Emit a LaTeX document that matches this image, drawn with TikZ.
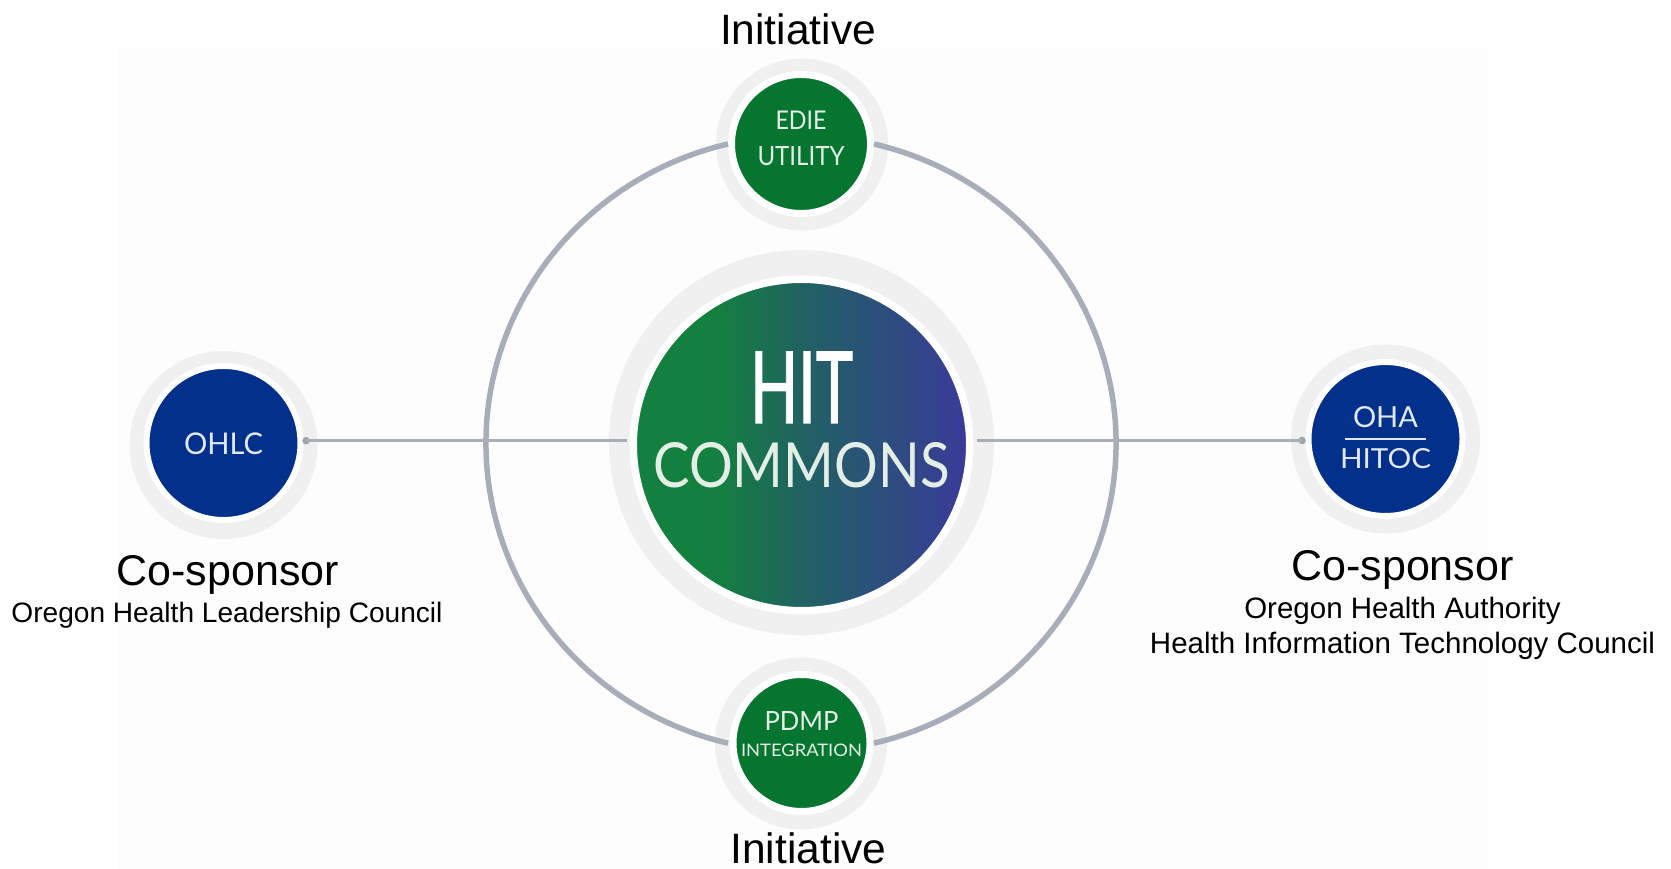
\documentclass[tikz,border=0pt]{standalone}
\usepackage{fontspec}
\usepackage{graphicx}
\usetikzlibrary{shapes.geometric}
\setmainfont{Liberation Sans}
\newfontfamily\hubfont{Lato}
\newfontfamily\hitfont[FakeBold=1.5]{Lato}
\definecolor{halo}{HTML}{F0F0F1}
\definecolor{panel}{HTML}{FDFDFD}
\definecolor{ringgrey}{HTML}{A8AEB9}
\definecolor{linegrey}{HTML}{A9AEB8}
\definecolor{dotgrey}{HTML}{9EA4AF}
\definecolor{hubgreen}{HTML}{067530}
\definecolor{hubblue}{HTML}{03308A}
\definecolor{gradgreen}{HTML}{14803F}
\definecolor{gradmid}{HTML}{206262}
\definecolor{gradblue}{HTML}{3A3A9A}
\definecolor{greentext}{HTML}{E3EFE6}
\definecolor{bluetext}{HTML}{E2E8F2}
\pgfdeclarehorizontalshading{hitgrad}{100bp}{color(0bp)=(gradgreen); color(37bp)=(gradgreen); color(50bp)=(gradmid); color(75bp)=(gradblue); color(100bp)=(gradblue)}
% one centred glyph row of exact width and cap height
\newcommand\glyphs[3]{\hbox to 0pt{\hss\resizebox{#1pt}{#2pt}{#3}\hss}}
% content whose last baseline lies #1 above the node centre, taking no room in the node
\newcommand\placed[2]{\makebox[0pt]{\raisebox{#1pt}[0pt][0pt]{\vbox{\offinterlineskip #2}}}}
\tikzset{
  halodisc/.style={circle,inner sep=0pt,outer sep=0pt,fill=halo,minimum size=#1},
  hub/.style={circle,inner sep=0pt,draw=white,line width=#1,font=\hubfont},
  centrehub/.style={ellipse,inner sep=0pt,draw=white,line width=7.5pt,minimum width=336.5pt,minimum height=331.5pt,shade,shading=hitgrad,text=white},
  ringline/.style={draw=ringgrey,line width=5.5pt},
  spoke/.style={draw=linegrey,line width=3.5pt},
  spokedot/.style={circle,inner sep=0pt,outer sep=0pt,fill=dotgrey,minimum size=7.5pt},
  bigcaption/.style={font=\fontsize{#1}{#1}\selectfont,anchor=base,inner sep=0pt,text=black},
  smallcaption/.style={font=\fontsize{#1}{#1}\selectfont,anchor=base,inner sep=0pt,text=black},
}
\begin{document}
\begin{tikzpicture}[x=1pt,y=1pt]
\useasboundingbox (0,0) rectangle (1671,869);
\fill[panel] (118,0) rectangle (1488,822);
% halos
\node[halodisc=385pt] (haloHit) at (801.5,426.4) {};
\node[halodisc=188pt] (haloOhlc) at (223.5,424) {};
\node[halodisc=189pt] (haloOha) at (1385.5,430) {};
\node[halodisc=172pt] (haloEdie) at (802,724.5) {};
\node[halodisc=172pt] (haloPdmp) at (801,125.5) {};
% hubs
\node[centrehub] (hit) at (801.5,424)
  {\placed{-43}{{\hitfont\glyphs{103}{71}{HIT}}\vskip 20pt\color{greentext}\hubfont\glyphs{296}{45}{COMMONS}}};
\node[hub=7pt,minimum size=139pt,fill=hubgreen,text=greentext] (edie) at (801,725)
  {\placed{-22}{\glyphs{51}{18.5}{EDIE}\vskip 17pt\glyphs{87}{19}{UTILITY}}};
\node[hub=7pt,minimum size=137pt,fill=hubgreen,text=greentext] (pdmp) at (801.5,126)
  {\placed{-14}{\glyphs{74}{19}{PDMP}\vskip 13.5pt\glyphs{121}{12.5}{INTEGRATION}}};
\node[hub=6pt,minimum size=154pt,fill=hubblue,text=bluetext] (ohlc) at (223.5,426)
  {\placed{-11.3}{\glyphs{79}{21.7}{OHLC}}};
\node[hub=6pt,minimum size=154pt,fill=hubblue,text=bluetext] (oha) at (1385.5,430)
  {\placed{-30}{\glyphs{65}{21}{OHA}\vskip 10.5pt\hbox to 0pt{\hss\rule{81pt}{1.5pt}\hss}\vskip 9pt\glyphs{91}{20}{HITOC}}};
% outer ring, as two arcs between the initiatives
\draw[ringline] (edie.west) arc[start angle=103.4,end angle=256.6,x radius=315,y radius=308];
\draw[ringline] (edie.east) arc[start angle=76.6,end angle=-76.6,x radius=315,y radius=308];
% sponsor spokes
\node[spokedot] (dotL) at (306,428.3) {};
\node[spokedot] (dotR) at (1302,428.5) {};
\draw[spoke] (dotL.center) -- ([xshift=-3pt]dotL.center -| hit.west);
\draw[spoke] (dotR.center) -- ([xshift=3pt]dotR.center -| hit.east);
% captions
\node[bigcaption=42.5pt] (capTop) at (798,824.5) {Initiative};
\node[bigcaption=42.5pt] (capBottom) at (808.5,5.5) {Initiative};
\node[bigcaption=43pt] (capLeft) at (227.7,283) {Co-sponsor};
\node[smallcaption=28.1pt] (subLeft) at (227,246) {Oregon Health Leadership Council};
\node[bigcaption=43pt] (capRight) at (1402.5,288) {Co-sponsor};
\node[smallcaption=29.5pt] (subRightA) at (1402.5,250) {Oregon Health Authority};
\node[smallcaption=29.5pt] (subRightB) at (1402.5,215) {Health Information Technology Council};
\end{tikzpicture}
\end{document}
